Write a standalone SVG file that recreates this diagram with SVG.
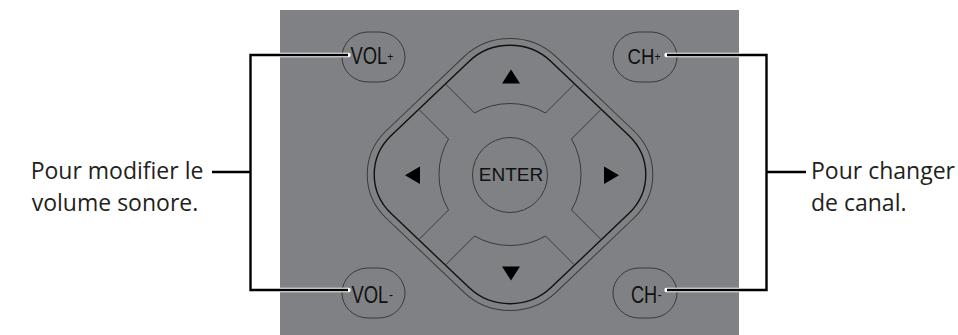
<svg xmlns="http://www.w3.org/2000/svg" width="958" height="335" viewBox="0 0 958 335">
  <style>
    .pill { fill: none; stroke: #3a3a3c; stroke-width: 1; }
    .btn { fill: none; stroke: #3a3a3c; stroke-width: 1; }
    .ring-out { fill: none; stroke: #3a3a3c; stroke-width: 1; }
    .ring-in { fill: none; stroke: #111; stroke-width: 1.4; }
    .arrow { fill: #000; }
    .key { font-family: "Liberation Sans", Arial, sans-serif; fill: #111; }
    .lbl { font-family: "Open Sans", "Noto Sans", sans-serif; font-size: 23px; fill: #231f20; }
    .halo { fill: none; stroke: #fff; stroke-width: 4.4; stroke-linecap: round; }
    .wire { fill: none; stroke: #000; stroke-width: 2.4; }
  </style>
  <defs>
    <clipPath id="ringClip">
      <rect x="-113" y="-113" width="226" height="226" rx="58" transform="translate(510,174.5) scale(1,0.952) rotate(45)"/>
    </clipPath>
  </defs>

  <rect id="panel" x="280" y="10" width="459" height="325" fill="#808184"/>

  <g id="dpad">
    <rect class="ring-out" x="-120" y="-120" width="240" height="240" rx="65" transform="translate(510,174.5) scale(1,0.952) rotate(45)"/>
    <rect class="ring-in" x="-113" y="-113" width="226" height="226" rx="58" transform="translate(510,174.5) scale(1,0.952) rotate(45)"/>
  </g>

  <g id="btn-up">
    <path class="btn" clip-path="url(#ringClip)" d="M474.5 113 L374.5 13 L645.5 13 L545.5 113 A71 71 0 0 0 474.5 113 Z"/>
    <path class="arrow" d="M502 83.5 L520 83.5 L511 69.5 Z"/>
  </g>
  <g id="btn-left">
    <path class="btn" clip-path="url(#ringClip)" d="M448.5 139 L348.5 39 L348.5 310 L448.5 210 A71 71 0 0 1 448.5 139 Z"/>
    <path class="arrow" d="M420 166.5 L420 184 L405 175.3 Z"/>
  </g>
  <g id="btn-right">
    <path class="btn" clip-path="url(#ringClip)" d="M571.5 139 L671.5 39 L671.5 310 L571.5 210 A71 71 0 0 0 571.5 139 Z"/>
    <path class="arrow" d="M604 166.5 L604 184 L619 175.3 Z"/>
  </g>
  <g id="btn-down">
    <path class="btn" clip-path="url(#ringClip)" d="M474.5 236 L374.5 336 L645.5 336 L545.5 236 A71 71 0 0 1 474.5 236 Z"/>
    <path class="arrow" d="M502 266.5 L520 266.5 L511 280.5 Z"/>
  </g>
  <g id="btn-enter">
    <circle class="btn" cx="510" cy="175" r="37.5"/>
    <text class="key" x="511" y="181" font-size="19" text-anchor="middle">ENTER</text>
  </g>

  <g id="vol-plus">
    <rect class="pill" x="342" y="32" width="63" height="50" rx="26" ry="25"/>
    <text class="key" font-size="23" transform="translate(350.5,63.5) scale(0.8,1)">VOL<tspan font-size="13" dy="-2.5">+</tspan></text>
  </g>
  <g id="ch-plus">
    <rect class="pill" x="613" y="32" width="64" height="50" rx="26" ry="25"/>
    <text class="key" font-size="23" transform="translate(627.5,64) scale(0.81,1)">CH<tspan font-size="13" dy="-3.5">+</tspan></text>
  </g>
  <g id="vol-minus">
    <rect class="pill" x="342" y="268" width="63" height="50" rx="26" ry="25"/>
    <text class="key" font-size="23" transform="translate(351.5,302.7) scale(0.8,1)">VOL<tspan font-size="15" dx="1" dy="-3">-</tspan></text>
  </g>
  <g id="ch-minus">
    <rect class="pill" x="613" y="268" width="64" height="50" rx="26" ry="25"/>
    <text class="key" font-size="23" transform="translate(631,302.7) scale(0.79,1)">CH<tspan font-size="15" dx="0.5" dy="-3">-</tspan></text>
  </g>

  <g id="label-volume">
    <text class="lbl" x="117" y="179" text-anchor="middle">Pour modifier le</text>
    <text class="lbl" x="115" y="211" text-anchor="middle">volume sonore.</text>
  </g>
  <g id="label-channel">
    <text class="lbl" x="811" y="179">Pour changer</text>
    <text class="lbl" x="811" y="211">de canal.</text>
  </g>

  <g id="connectors">
    <path class="halo" d="M348.5 55 H250.5 V290 H348.5"/>
    <path class="halo" d="M666.5 55 H766.5 V290 H666.5"/>
    <path class="wire" d="M348 55 H250.5 V290 H348"/>
    <path class="wire" d="M212 172 H250.5"/>
    <path class="wire" d="M667 55 H766.5 V290 H667"/>
    <path class="wire" d="M766.5 172 H806"/>
  </g>
</svg>
